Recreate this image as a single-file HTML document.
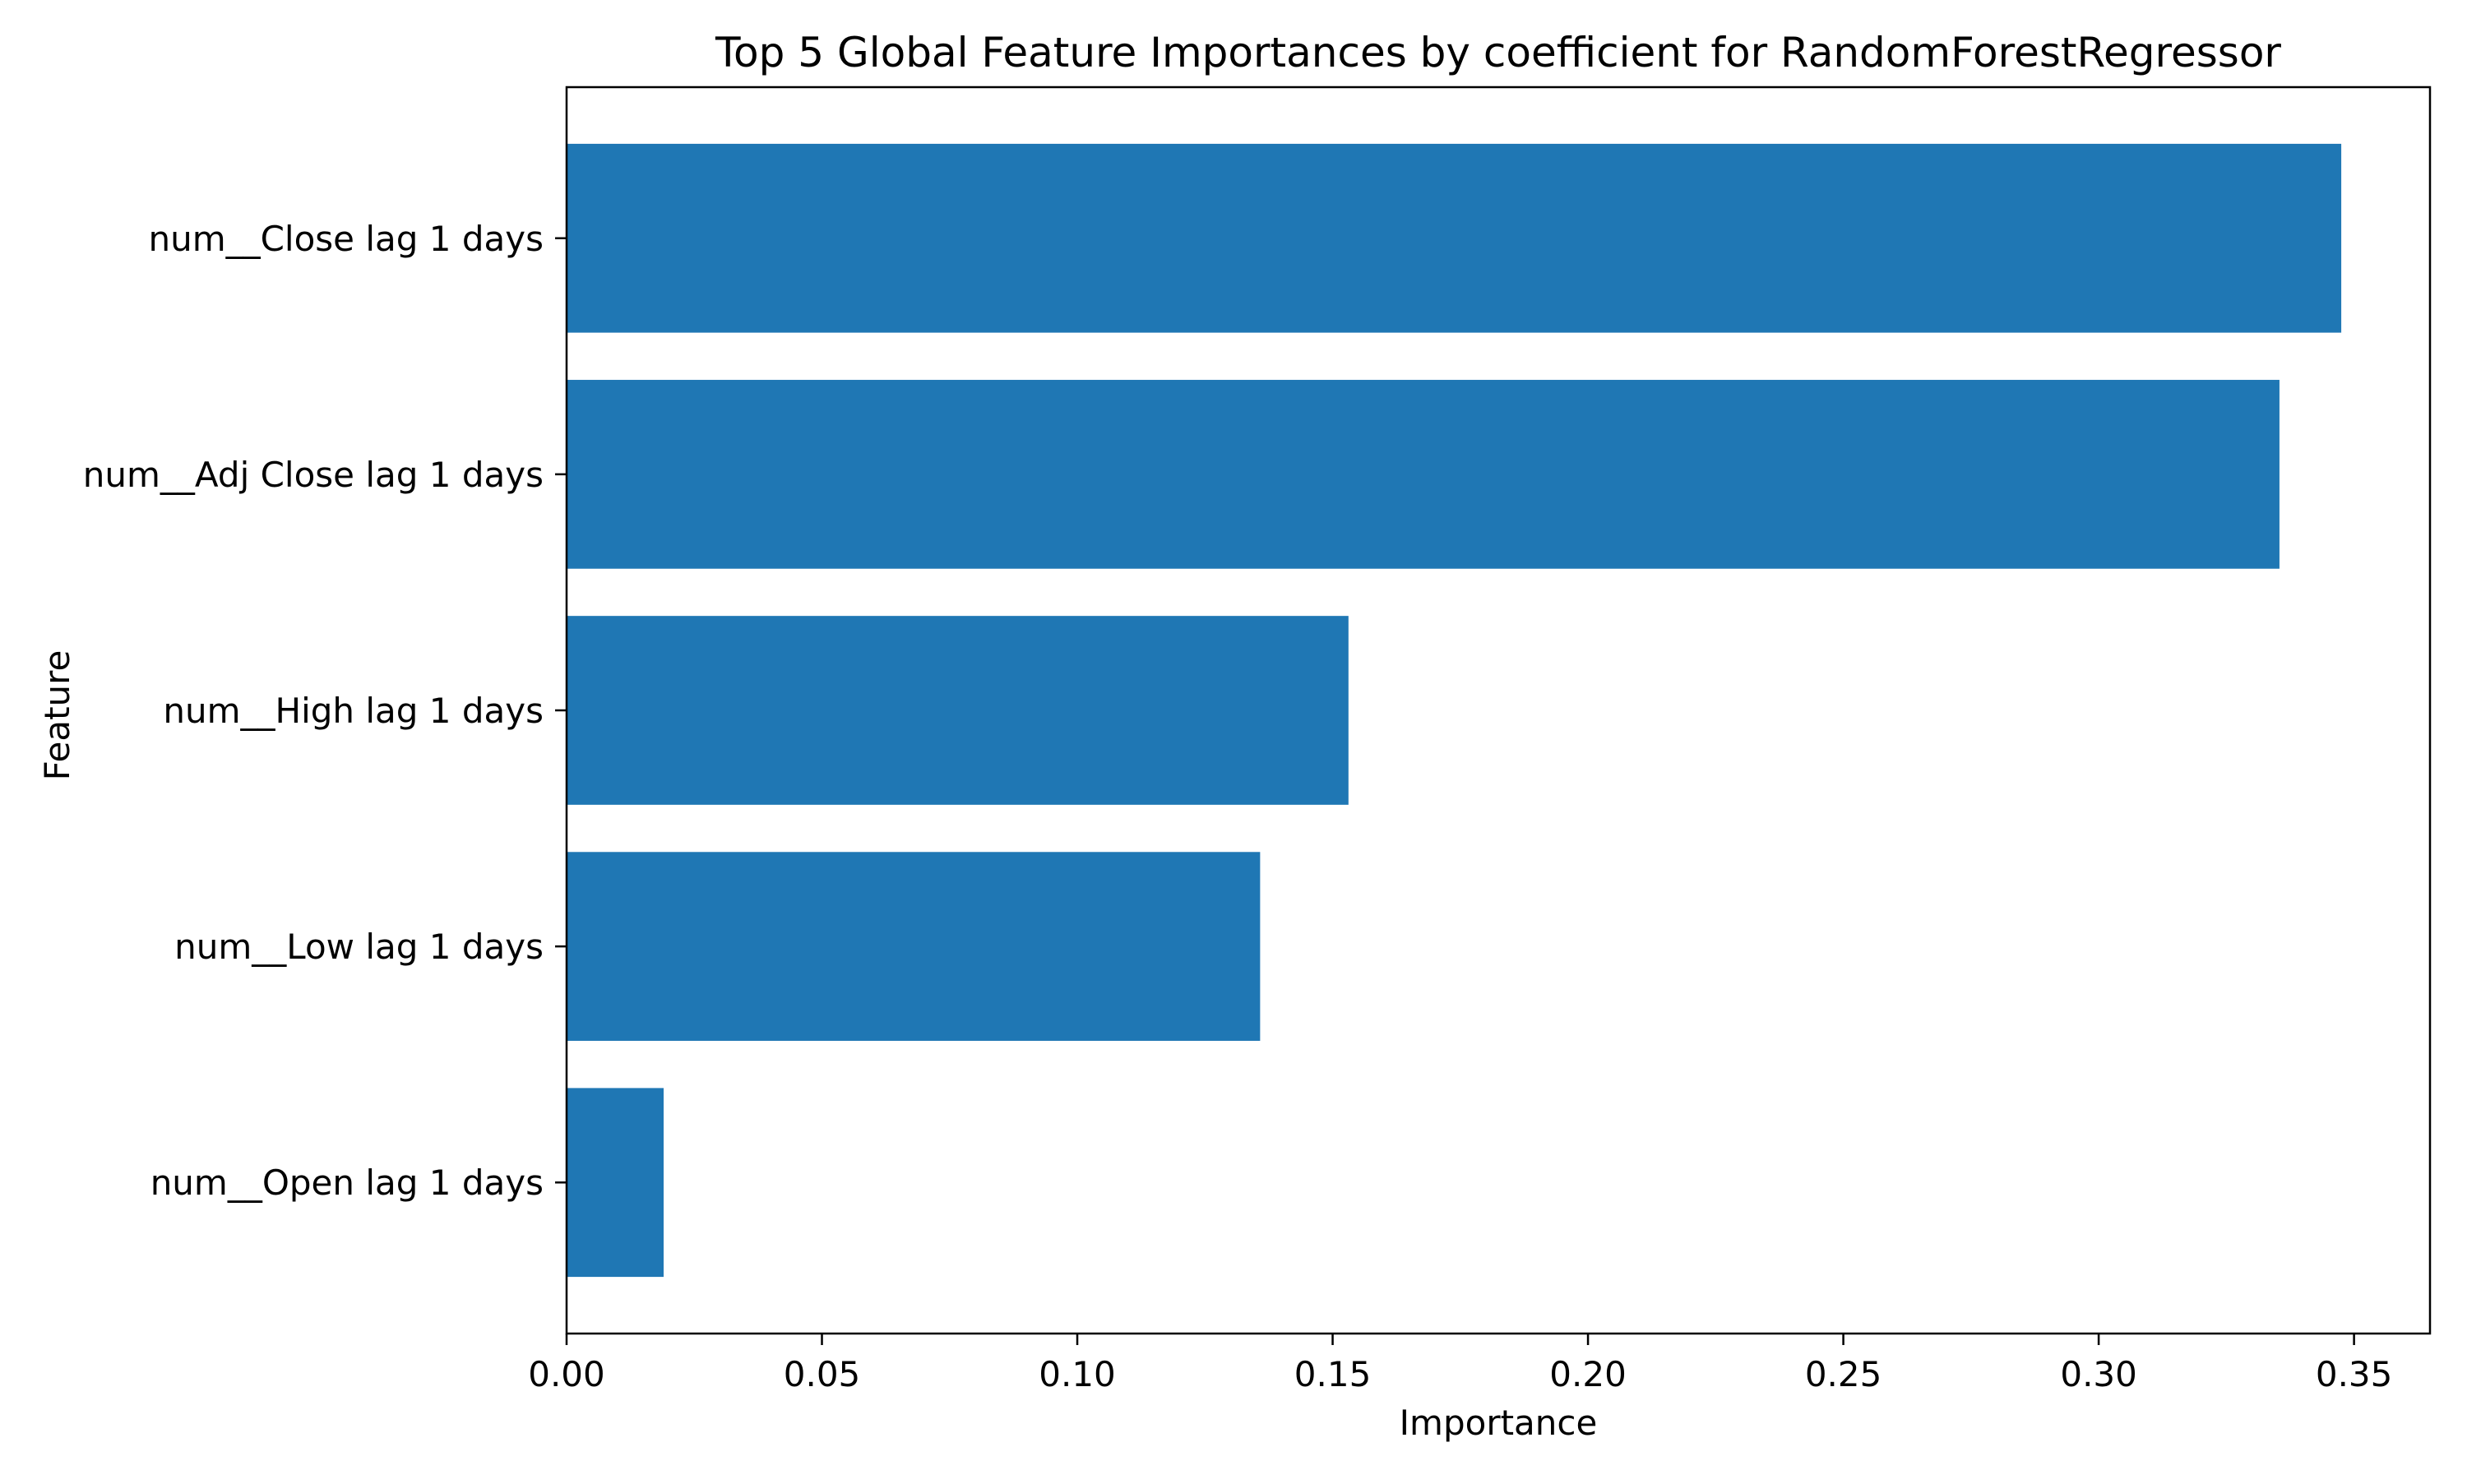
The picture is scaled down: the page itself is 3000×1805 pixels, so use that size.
<!DOCTYPE html>
<html><head><meta charset="utf-8"><style>
html,body{margin:0;padding:0;background:#fff;}
svg text{font-family:"DejaVu Sans","Liberation Sans",sans-serif;fill:#000;}
</style></head><body>
<svg id="chart" xmlns="http://www.w3.org/2000/svg" width="3000" height="1800" viewBox="0 0 3000 1800">
<rect width="3000" height="1800" fill="#fff"/>
<text x="1822" y="81" font-size="50" text-anchor="middle">Top 5 Global Feature Importances by coefficient for RandomForestRegressor</text>
<g id="bars"></g>
<g id="xticks"></g>
<g id="yticks"></g>
<rect x="689" y="106" width="2266" height="1516" fill="none" stroke="#000" stroke-width="2.5"/>
<text x="1822" y="1745" font-size="42" text-anchor="middle">Importance</text>
<text x="84" y="870" font-size="42" text-anchor="middle" transform="rotate(-90 84 870)">Feature</text>
</svg>
<script>
const categories = ["num__Open lag 1 days","num__Low lag 1 days","num__High lag 1 days","num__Adj Close lag 1 days","num__Close lag 1 days"];
const values = [0.0190, 0.1358, 0.1531, 0.3354, 0.3475];
const xTicks = [0, 0.05, 0.10, 0.15, 0.20, 0.25, 0.30, 0.35];
const xTickLabels = ["0.00","0.05","0.10","0.15","0.20","0.25","0.30","0.35"];

const L=689,R=2955,T=106,B=1622;
const xMax = Math.max(...values)*1.05;
const n = categories.length;
const yMin=-0.4-(n-0.2)*0.05, yMax=n-0.6+(n-0.2)*0.05;
const xs = v => L + v/xMax*(R-L);
const ys = v => B - (v-yMin)/(yMax-yMin)*(B-T);
const NS="http://www.w3.org/2000/svg";
const bars=document.getElementById('bars'), xt=document.getElementById('xticks'), yt=document.getElementById('yticks');
function mk(tag,attrs,parent){const e=document.createElementNS(NS,tag);for(const k in attrs)e.setAttribute(k,attrs[k]);parent.appendChild(e);return e;}
values.forEach((v,i)=>{
  const r=mk('rect',{x:xs(0),y:ys(i+0.4),width:xs(v)-xs(0),height:ys(i-0.4)-ys(i+0.4),fill:'#1f77b4'},bars);
  
  
  const tk=mk('line',{x1:L,x2:L-14,y1:ys(i),y2:ys(i),stroke:'#000','stroke-width':2.5},yt);
  
  
  const t=mk('text',{x:L-28,y:ys(i)+15,'font-size':42,'text-anchor':'end'},yt);
  t.textContent=categories[i];
  
  
});
xTicks.forEach((v,i)=>{
  const tk=mk('line',{x1:xs(v),x2:xs(v),y1:B,y2:B+14,stroke:'#000','stroke-width':2.5},xt);
  
  
  const t=mk('text',{x:xs(v),y:B+64,'font-size':42,'text-anchor':'middle'},xt);
  t.textContent=xTickLabels[i];
  
  
});
</script>
</body></html>
